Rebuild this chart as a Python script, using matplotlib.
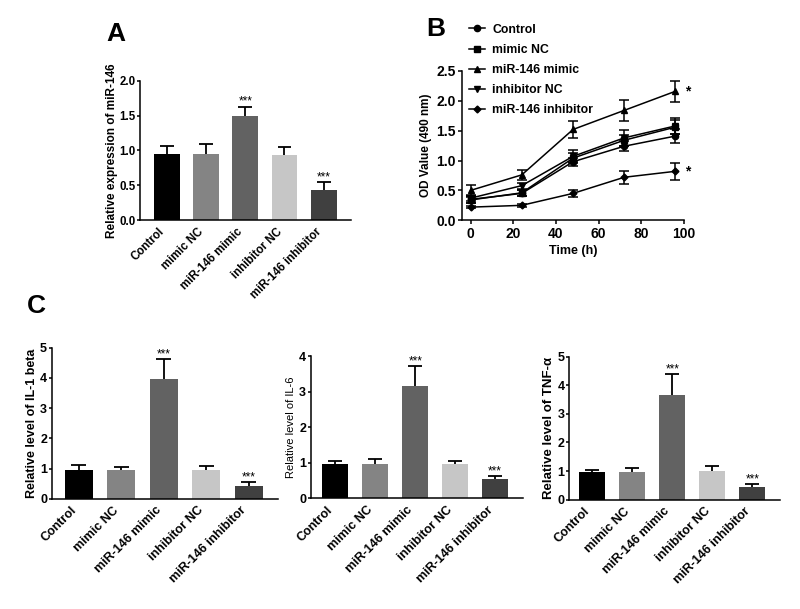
import numpy as np
import matplotlib

matplotlib.use("Agg")
import matplotlib.pyplot as plt
from matplotlib.lines import Line2D

# -- Font configuration ----------------------------------------
plt.rcParams.update(
    {
        "font.family": ["Liberation Sans", "DejaVu Sans"],
        "font.weight": "bold",
        "axes.linewidth": 1.1,
    }
)

# -- Data ------------------------------------------------------
groups = ["Control", "mimic NC", "miR-146 mimic", "inhibitor NC", "miR-146 inhibitor"]
bar_colors = ["#000000", "#848484", "#626262", "#c6c6c6", "#404040"]
stars = ["", "", "***", "", "***"]

mir146_mean = [0.95, 0.95, 1.49, 0.93, 0.43]
mir146_err = [0.11, 0.15, 0.14, 0.12, 0.12]

il1b_mean = [0.95, 0.95, 3.96, 0.96, 0.42]
il1b_err = [0.17, 0.11, 0.66, 0.12, 0.14]

il6_mean = [0.97, 0.96, 3.16, 0.96, 0.54]
il6_err = [0.07, 0.16, 0.57, 0.09, 0.08]

tnf_mean = [0.97, 0.98, 3.65, 0.99, 0.45]
tnf_err = [0.08, 0.14, 0.74, 0.19, 0.11]

time_h = [0, 24, 48, 72, 96]
od_control = [0.35, 0.45, 0.98, 1.24, 1.41]
od_control_err = [0.06, 0.05, 0.07, 0.08, 0.12]
od_mimic_nc = [0.34, 0.46, 1.04, 1.34, 1.56]
od_mimic_nc_err = [0.05, 0.05, 0.08, 0.09, 0.12]
od_mimic = [0.50, 0.76, 1.52, 1.84, 2.16]
od_mimic_err = [0.09, 0.08, 0.14, 0.17, 0.18]
od_inhibitor_nc = [0.37, 0.58, 1.07, 1.38, 1.58]
od_inhibitor_nc_err = [0.05, 0.05, 0.10, 0.13, 0.13]
od_inhibitor = [0.22, 0.25, 0.45, 0.72, 0.82]
od_inhibitor_err = [0.02, 0.02, 0.06, 0.11, 0.14]
od_markers = ["o", "s", "^", "v", "D"]
od_stars = ["", "", "*", "", "*"]


def bar_panel(fig, rect, means, errs, ylabel, ymax, yticks, xlim, width,
              tick_fmt="{:g}", label_weight="bold", fs=9, label_fs=9, labelpad=2):
    ax = fig.add_axes(rect)
    x = np.arange(len(groups))
    tops = np.array(means) + np.array(errs)
    ax.bar(x, means, width=width, color=bar_colors, zorder=2)
    # upward-only error bars, GraphPad style
    cap = width * 0.27
    ax.vlines(x, means, tops, color="black", linewidth=1.3, zorder=1)
    ax.hlines(tops, x - cap, x + cap, color="black", linewidth=1.3, zorder=1)
    for xi, t, s in zip(x, tops, stars):
        if s:
            ax.annotate(s, (xi, t), xytext=(0, -1), textcoords="offset points",
                        ha="center", va="bottom", fontsize=8.5, fontweight="normal")
    ax.set_xlim(*xlim)
    ax.set_ylim(0, ymax)
    ax.set_yticks(yticks)
    ax.set_yticklabels([tick_fmt.format(v) for v in yticks], fontsize=fs,
                       fontweight="bold")
    ax.set_xticks(x)
    ax.set_xticklabels(groups, rotation=45, ha="right", fontsize=fs,
                       fontweight="bold")
    ax.tick_params(axis="x", length=0, pad=4)
    ax.tick_params(axis="y", length=2.5, width=1.1, pad=0.8)
    ax.set_ylabel(ylabel, fontsize=label_fs, fontweight=label_weight,
                  labelpad=labelpad)
    for side in ("top", "right"):
        ax.spines[side].set_visible(False)
    return ax


def growth_panel(fig, rect):
    ax = fig.add_axes(rect)
    series = [od_control, od_mimic_nc, od_mimic, od_inhibitor_nc, od_inhibitor]
    errors = [od_control_err, od_mimic_nc_err, od_mimic_err,
              od_inhibitor_nc_err, od_inhibitor_err]
    sizes = [4.5, 5, 4.5, 4.5, 3.5]
    handles = []
    for name, y, e, mk, ms, s in zip(groups, series, errors, od_markers, sizes, od_stars):
        ax.errorbar(time_h, y, yerr=e, color="black", marker=mk, markersize=ms,
                    linewidth=1.1, elinewidth=1.1, capsize=3.5, capthick=1.1)
        handles.append(Line2D([], [], color="black", marker=mk, markersize=ms,
                              linewidth=1.1, label=name))
        if s:
            ax.annotate(s, (time_h[-1], y[-1]), xytext=(9, 0),
                        textcoords="offset points", ha="center", va="center",
                        fontsize=10, fontweight="bold", annotation_clip=False)
    ax.set_xlim(-4, 100)
    ax.set_ylim(0, 2.5)
    ax.set_xticks([0, 20, 40, 60, 80, 100])
    ax.set_yticks([0.0, 0.5, 1.0, 1.5, 2.0, 2.5])
    ax.set_yticklabels(["0.0", "0.5", "1.0", "1.5", "2.0", "2.5"])
    ax.tick_params(labelsize=10, length=3, width=1.1, pad=1.5)
    for lab in ax.get_xticklabels() + ax.get_yticklabels():
        lab.set_fontweight("bold")
    ax.set_xlabel("Time (h)", fontsize=9, fontweight="bold", labelpad=3)
    ax.set_ylabel("OD Value (490 nm)", fontsize=8.5, fontweight="bold", labelpad=3)
    for side in ("top", "right"):
        ax.spines[side].set_visible(False)
    ax.legend(handles=handles, loc="upper left", bbox_to_anchor=(0.586, 0.961),
              bbox_transform=fig.transFigure, frameon=False,
              handlelength=1.3, handletextpad=0.6, labelspacing=0.66,
              borderpad=0, borderaxespad=0,
              prop={"weight": "bold", "size": 8.8})
    return ax


def main():
    fig = plt.figure(figsize=(8, 6.09), dpi=100)

    bar_panel(fig, [0.175, 0.6383, 0.2638, 0.2292], mir146_mean, mir146_err,
              "Relative expression of miR-146", 2.0, [0.0, 0.5, 1.0, 1.5, 2.0],
              (-0.69, 4.70), 0.66, tick_fmt="{:.1f}", fs=8.3, label_fs=8.5,
              labelpad=1)
    growth_panel(fig, [0.5775, 0.6383, 0.2775, 0.2452])

    bar_panel(fig, [0.0646, 0.1811, 0.2829, 0.2479], il1b_mean, il1b_err,
              "Relative level of IL-1 beta", 5, [0, 1, 2, 3, 4, 5],
              (-0.64, 4.69), 0.66, label_fs=9, labelpad=1.5)
    bar_panel(fig, [0.3884, 0.1818, 0.2658, 0.2332], il6_mean, il6_err,
              "Relative level of IL-6", 4, [0, 1, 2, 3, 4],
              (-0.62, 4.71), 0.65, label_weight="normal", label_fs=8)
    bar_panel(fig, [0.7116, 0.1795, 0.2634, 0.2348], tnf_mean, tnf_err,
              "Relative level of TNF-α", 5, [0, 1, 2, 3, 4, 5],
              (-0.57, 4.69), 0.65, label_fs=9.5)

    fig.text(0.1334, 1 - 40.7 / 609, "A", fontsize=19, fontweight="bold",
             va="baseline")
    fig.text(0.5334, 1 - 35.7 / 609, "B", fontsize=19, fontweight="bold",
             va="baseline")
    fig.text(0.0334, 1 - 313.3 / 609, "C", fontsize=19, fontweight="bold",
             va="baseline")

    fig.savefig("out.png", dpi=100)


if __name__ == "__main__":
    main()
